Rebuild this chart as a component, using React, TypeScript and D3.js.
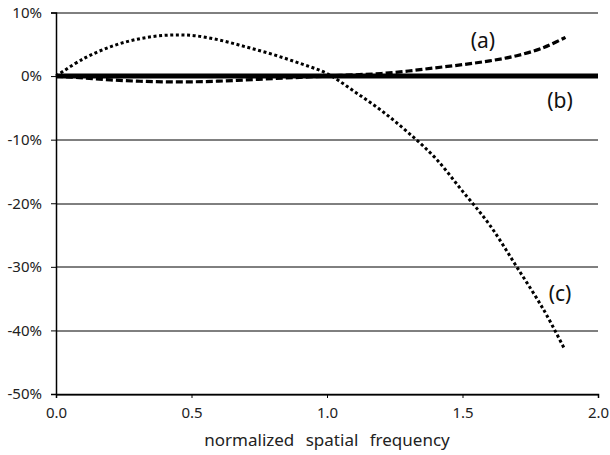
import React, { useRef, useEffect } from "react";
import * as d3 from "d3";

// normalized spatial frequency samples
const freqA = [0, 0.1, 0.2, 0.3, 0.4, 0.5, 0.6, 0.7, 0.8, 0.9, 1.0, 1.1, 1.2, 1.3, 1.4, 1.5, 1.6, 1.7, 1.8, 1.88];
const seriesA = [0, -0.3, -0.6, -0.8, -0.9, -0.9, -0.8, -0.6, -0.4, -0.2, 0, 0.2, 0.4, 0.8, 1.3, 1.8, 2.4, 3.2, 4.5, 6.1];

const freqB = [0, 0.5, 1.0, 1.5, 2.0];
const seriesB = [0, 0, 0, 0, 0];

const freqC = [0, 0.1, 0.2, 0.3, 0.4, 0.5, 0.6, 0.7, 0.8, 0.9, 1.0, 1.1, 1.2, 1.3, 1.4, 1.5, 1.6, 1.7, 1.8, 1.875];
const seriesC = [0, 2.7, 4.6, 5.8, 6.4, 6.4, 5.7, 4.6, 3.4, 2.0, 0.4, -2.4, -5.4, -8.9, -12.9, -18.1, -23.4, -30, -36.8, -42.8];

const xTicks = [0, 0.5, 1.0, 1.5, 2.0];
const yTicks = [10, 0, -10, -20, -30, -40, -50];

const labels = ["(a)", "(b)", "(c)"];
const labelX = [1.575, 1.86, 1.86];
const labelY = [5.7, -3.8, -34.1];

export default function App() {
  const svgRef = useRef<SVGSVGElement>(null);

  useEffect(() => {
    const svg = d3.select(svgRef.current);
    svg.selectAll("*").remove();

    const W = 610, H = 455;
    const margin = { top: 12.5, right: 12, bottom: 61, left: 56 };
    const innerW = W - margin.left - margin.right;
    const innerH = H - margin.top - margin.bottom;

    const font = "'Noto Sans', 'DejaVu Sans', sans-serif";

    const x = d3.scaleLinear().domain([0, 2]).range([0, innerW]);
    const y = d3.scaleLinear().domain([-50, 10]).range([innerH, 0]);

    const g = svg.append("g")
      .attr("transform", `translate(${margin.left},${margin.top})`);

    // grid
    g.append("g")
      .selectAll("line")
      .data(yTicks)
      .join("line")
        .attr("x1", 0)
        .attr("x2", innerW)
        .attr("y1", d => Math.round(y(d)) + 0.5)
        .attr("y2", d => Math.round(y(d)) + 0.5)
        .attr("stroke", "#000")
        .attr("stroke-width", 1);

    // axes
    const yAxis = g.append("g")
      .call(d3.axisLeft(y).tickValues(yTicks).tickSize(5).tickFormat(d => `${d}%`));
    yAxis.select(".domain").attr("stroke", "#000").attr("stroke-width", 1.5);
    yAxis.selectAll("line").attr("stroke", "#000");
    yAxis.selectAll("text")
      .attr("font-size", "15px")
      .attr("font-family", font)
      .attr("fill", "#222")
      .attr("x", -14);

    const xAxis = g.append("g")
      .attr("transform", `translate(0,${innerH})`)
      .call(d3.axisBottom(x).tickValues(xTicks).tickSize(4).tickFormat(d3.format(".1f")));
    xAxis.select(".domain").attr("stroke", "#000").attr("stroke-width", 1.5);
    xAxis.selectAll("line").attr("stroke", "#000");
    xAxis.selectAll("text")
      .attr("font-size", "15px")
      .attr("font-family", font)
      .attr("fill", "#222")
      .attr("y", 13);

    // axis title
    svg.append("text")
      .attr("x", margin.left + innerW / 2)
      .attr("y", H - 9)
      .attr("text-anchor", "middle")
      .attr("font-size", "17px")
      .attr("font-family", font)
      .attr("word-spacing", "7px")
      .attr("fill", "#222")
      .text("normalized spatial frequency");

    const line = d3.line<[number, number]>()
      .x(d => x(d[0]))
      .y(d => y(d[1]))
      .curve(d3.curveCatmullRom.alpha(0.5));

    // (b) solid thick
    g.append("path")
      .datum(freqB.map((f, i) => [f, seriesB[i]] as [number, number]))
      .attr("d", line)
      .attr("fill", "none")
      .attr("stroke", "#000")
      .attr("stroke-width", 5);

    // (a) dashed
    g.append("path")
      .datum(freqA.map((f, i) => [f, seriesA[i]] as [number, number]))
      .attr("d", line)
      .attr("fill", "none")
      .attr("stroke", "#000")
      .attr("stroke-width", 3.2)
      .attr("stroke-dasharray", "7,3");

    // (c) dotted
    g.append("path")
      .datum(freqC.map((f, i) => [f, seriesC[i]] as [number, number]))
      .attr("d", line)
      .attr("fill", "none")
      .attr("stroke", "#000")
      .attr("stroke-width", 3)
      .attr("stroke-dasharray", "3,2.6");

    // series labels
    g.selectAll(".series-label")
      .data(labels)
      .join("text")
        .attr("class", "series-label")
        .attr("x", (d, i) => x(labelX[i]))
        .attr("y", (d, i) => y(labelY[i]))
        .attr("text-anchor", "middle")
        .attr("dominant-baseline", "central")
        .attr("font-size", "21px")
        .attr("font-family", font)
        .attr("fill", "#111")
        .text(d => d);
  }, []);

  return (
    <svg
      ref={svgRef}
      width={610}
      height={455}
      style={{ position: "absolute", left: 0, top: 0, background: "#fff" }}
    />
  );
}
